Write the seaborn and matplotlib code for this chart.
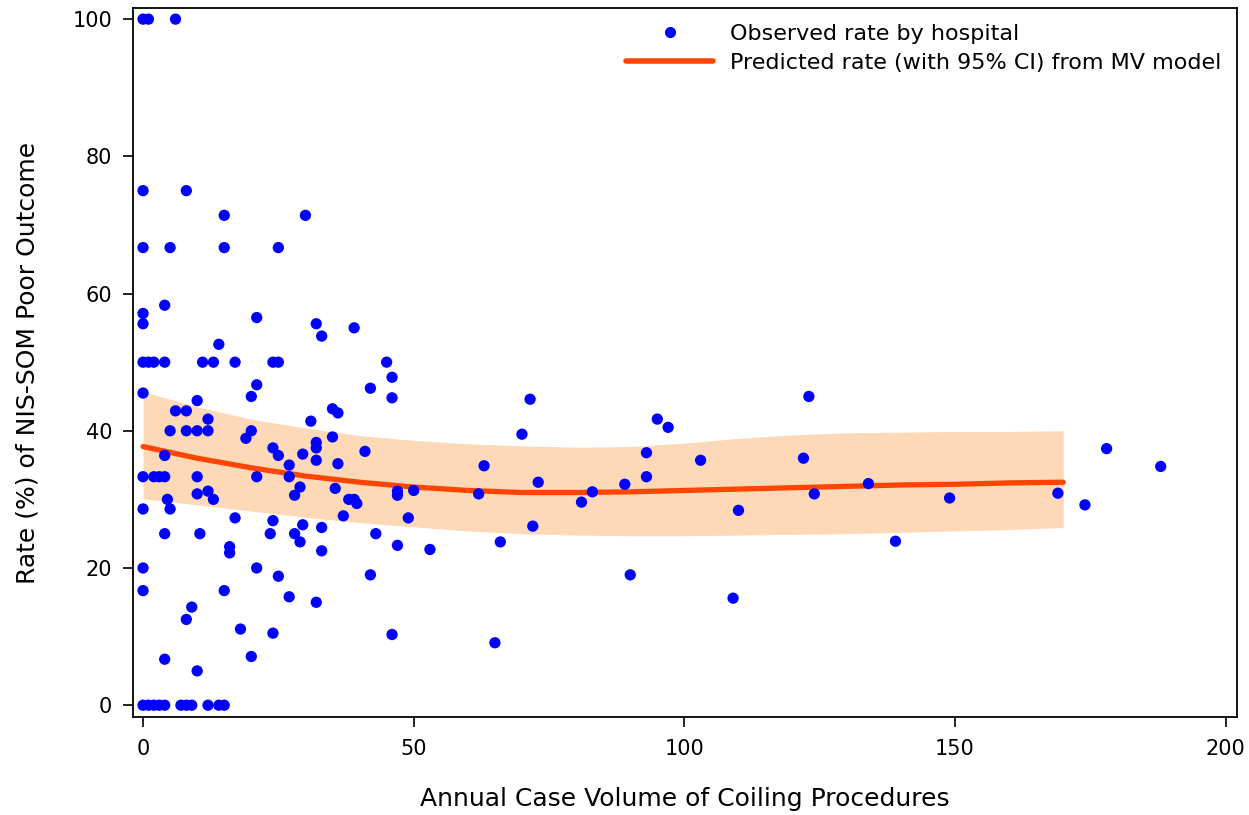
import matplotlib
matplotlib.use("Agg")
import matplotlib.pyplot as plt
import seaborn as sns
import pandas as pd
from matplotlib.lines import Line2D

# Observed rates by hospital (annual case volume, rate %)
obs_volume = [0, 1, 6, 0, 8, 15, 30, 0, 5, 15, 25,
              0, 0, 4, 21, 32, 33, 14, 39,
              0, 1, 2, 4, 11, 13, 17, 24, 25, 45, 46,
              0, 21, 20, 10, 6, 8, 12, 5, 8, 10, 12, 20, 19, 31, 35,
              24, 25, 27, 29.5, 32, 32, 32, 4,
              0, 2, 3, 4, 10, 21, 27,
              29, 28, 12, 10, 13, 4.5, 5, 0, 17, 24, 29.5, 33, 4, 10.5, 23.5, 28, 29, 33,
              16, 16, 0, 21, 25, 0, 15, 27, 32, 9, 8, 18, 24, 20, 4, 10,
              0, 1, 2, 3, 4, 7, 8, 9, 12, 14, 15,
              42, 46, 36, 71.5,
              35, 41, 36, 35.5, 38, 39, 39.5, 37, 47, 47, 50, 49, 43, 47, 53, 42, 46, 65,
              70, 63, 73, 62, 72, 66,
              123, 95, 97, 93, 103, 122, 93, 89, 83, 81, 110, 124, 134, 139, 90, 109,
              149, 169, 174, 178, 188]
obs_rate = [100, 100, 100, 75, 75, 71.4, 71.4, 66.7, 66.7, 66.7, 66.7,
            57.1, 55.6, 58.3, 56.5, 55.6, 53.8, 52.6, 55.0,
            50, 50, 50, 50, 50, 50, 50, 50, 50, 50, 47.8,
            45.5, 46.7, 45.0, 44.4, 42.9, 42.9, 41.7, 40, 40, 40, 40, 40, 38.9, 41.4, 43.2,
            37.5, 36.4, 35.0, 36.6, 38.3, 37.5, 35.7, 36.4,
            33.3, 33.3, 33.3, 33.3, 33.3, 33.3, 33.3,
            31.8, 30.6, 31.2, 30.8, 30.0, 30.0, 28.6, 28.6, 27.3, 26.9, 26.3, 25.9, 25, 25, 25, 25, 23.8, 22.5,
            23.1, 22.2, 20, 20, 18.8, 16.7, 16.7, 15.8, 15.0, 14.3, 12.5, 11.1, 10.5, 7.1, 6.7, 5.0,
            0, 0, 0, 0, 0, 0, 0, 0, 0, 0, 0,
            46.2, 44.8, 42.6, 44.6,
            39.1, 37.0, 35.2, 31.6, 30.0, 30.0, 29.4, 27.6, 31.2, 30.6, 31.3, 27.3, 25.0, 23.3, 22.7, 19.0, 10.3, 9.1,
            39.5, 34.9, 32.5, 30.8, 26.1, 23.8,
            45.0, 41.7, 40.5, 36.8, 35.7, 36.0, 33.3, 32.2, 31.1, 29.6, 28.4, 30.8, 32.3, 23.9, 19.0, 15.6,
            30.2, 30.9, 29.2, 37.4, 34.8]

# Predicted rate from multivariable model with 95% CI
pred_volume = [0, 10, 20, 30, 40, 50, 60, 70, 80, 90, 100, 110, 120, 130, 140, 150, 160, 170]
pred_rate = [37.7, 36.0, 34.6, 33.4, 32.5, 31.8, 31.3, 31.0, 31.0, 31.1, 31.3, 31.5, 31.7, 31.9, 32.1, 32.2, 32.4, 32.5]
pred_upper = [45.7, 43.5, 41.7, 40.4, 39.3, 38.6, 38.1, 37.8, 37.6, 37.7, 38.2, 38.9, 39.4, 39.7, 39.8, 39.9, 39.9, 40.0]
pred_lower = [30.1, 29.2, 28.3, 27.4, 26.6, 26.0, 25.4, 25.0, 24.8, 24.7, 24.7, 24.8, 24.9, 25.0, 25.2, 25.4, 25.6, 25.9]

x_ticks = [0, 50, 100, 150, 200]
y_ticks = [0, 20, 40, 60, 80, 100]

sns.set_style("ticks")
plt.rcParams['font.family'] = ['DejaVu Sans']
plt.rcParams['text.color'] = 'black'

obs_df = pd.DataFrame({"volume": obs_volume, "rate": obs_rate})
pred_df = pd.DataFrame({"volume": pred_volume, "rate": pred_rate,
                        "upper": pred_upper, "lower": pred_lower})

fig = plt.figure(figsize=(12.49, 8.15), dpi=100)
ax = fig.add_axes([0.1065, 0.120, 0.8835, 0.870])

band_color = "#FDD9B8"
line_color = "#FF4500"
point_color = "#0000FF"

ax.fill_between(pred_df["volume"], pred_df["lower"], pred_df["upper"],
                color=band_color, linewidth=0, zorder=1)
sns.lineplot(data=pred_df, x="volume", y="rate", ax=ax, color=line_color,
             linewidth=3.8, zorder=2, legend=False)
sns.scatterplot(data=obs_df, x="volume", y="rate", ax=ax, color=point_color,
                s=66, edgecolor="none", zorder=3, legend=False)

ax.set_xlim(-1.85, 202)
ax.set_ylim(-1.75, 101.6)
ax.set_xticks(x_ticks)
ax.set_yticks(y_ticks)
ax.tick_params(axis="both", direction="out", length=7, width=1.2, color="black",
               labelsize=15, labelcolor="black", pad=8)
ax.tick_params(axis="x", pad=9)
for s in ax.spines.values():
    s.set_visible(True)
    s.set_color("black")
    s.set_linewidth(1.3)

ax.set_xlabel("Annual Case Volume of Coiling Procedures", fontsize=18, labelpad=20, color="black")
ax.set_ylabel("Rate (%) of NIS-SOM Poor Outcome", fontsize=18, labelpad=24, color="black")

handles = [Line2D([0], [0], marker="o", linestyle="none", color=point_color,
                  markersize=8, markeredgewidth=0),
           Line2D([0], [0], color=line_color, linewidth=4)]
labels = ["Observed rate by hospital", "Predicted rate (with 95% CI) from MV model"]
leg = ax.legend(handles, labels, loc="upper right", frameon=False, fontsize=16,
                handlelength=3.9, handletextpad=0.75, labelspacing=0.42,
                borderaxespad=0.3, bbox_to_anchor=(1.0, 1.0))
for t in leg.get_texts():
    t.set_color("black")

fig.savefig("out.png", dpi=100, facecolor="white")
